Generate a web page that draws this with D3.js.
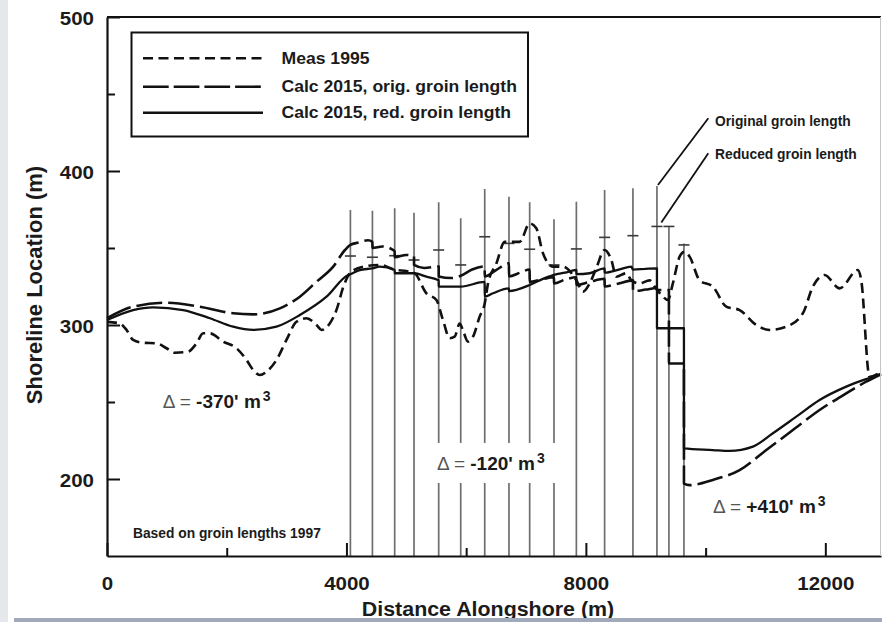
<!DOCTYPE html>
<html>
<head>
<meta charset="utf-8">
<script src="https://cdn.jsdelivr.net/npm/d3@7"></script>
<style>
  html, body { margin: 0; padding: 0; background: #fff; }
  svg { display: block; }
  text { font-family: "Liberation Sans", Arial, Helvetica, sans-serif; font-weight: bold; fill: #1b1b1b; }
</style>
</head>
<body>
<svg id="chart" width="882" height="622"></svg>
<script>
// Shoreline position [distance alongshore (m), shoreline location (m)]
const measured1995 = [
  [0,302],[214,301],[326,296.8],[436,290.3],[603,288.5],[827,288.1],[994,284.9],[1134,282],
  [1355,282.7],[1496,288.1],[1606,294.6],[1718,294.6],[1940,289.2],[2163,284.9],[2331,277.3],
  [2442,270.8],[2552,267.5],[2665,269.7],[2831,277.3],[2998,290.3],[3165,302.1],[3332,304.4],
  [3501,300],[3585,296.8],[3721,301],[3833,309.7],[3950,325],[4066,334],[4300,338],[4556,339],
  [4806,336],[5000,335],[5129,334],[5336,320.6],[5503,316.2],[5613,303.2],[5725,291.4],
  [5808,292.4],[5892,301],[5960,295],[6030,289.2],[6114,292.4],[6225,305.4],[6310,314],
  [6365,327],[6505,340],[6643,354],[6894,354],[7061,366],[7172,362.8],[7283,346.6],
  [7450,337.9],[7617,337.9],[7841,329],[7951,321.6],[8062,327],[8174,337],[8313,348.7],
  [8425,342.2],[8508,331.4],[8675,333.6],[8759,329],[8898,327],[9065,329],[9149,324.9],
  [9287,318.4],[9370,316.2],[9453,327],[9566,344.4],[9649,347.6],[9733,344.4],[9900,329],
  [10122,324.9],[10345,311.9],[10568,309.7],[10846,300],[11068,296.8],[11347,298.9],
  [11625,307.6],[11792,324.9],[11987,332.5],[12238,323.8],[12543,335.7],[12600,329],
  [12738,266.4],[12930,269.5]
];
const calcOrig2015 = [
  [0,304.4],[436,311.9],[994,314.5],[1550,311.9],[2107,307.6],[2442,306.9],[2888,310.8],
  [3222,318.4],[3501,328.1],[3779,337.9],[3975,348.7],[4066,352],[4200,353.5],[4360,355],
  [4434,354],[4434,350],[4600,351],[4806,348],[4806,344],[5000,345.5],[5129,344.5],
  [5129,339],[5300,337],[5541,338],[5541,331.5],[5750,330.5],[5909,332],[6100,336],
  [6310,338],[6310,331.5],[6500,335.7],[6715,340],[6715,331.5],[6900,334],[7061,336],
  [7061,328],[7250,329.5],[7467,331],[7467,327],[7650,329.5],[7841,331],[7841,326],
  [8062,328],[8313,330],[8313,325],[8550,327],[8786,329],[8786,322],[9000,323],[9187,324],
  [9187,322.7],[9387,322.7],[9387,275],[9638,275],[9638,197],[9733,196],[10122,199.4],
  [10568,205.8],[11014,218.8],[11458,231.8],[11904,244.8],[12349,255.6],[12683,263.2],
  [12930,268]
];
const calcRed2015 = [
  [0,303.2],[436,309.7],[770,311.5],[1273,309.7],[1718,304.4],[2107,298.9],[2442,296.8],
  [2831,298.9],[3222,306.5],[3668,318.4],[4029,332.5],[4066,333],[4222,335.7],[4434,336.8],
  [4556,337.9],[4806,335.7],[4806,333.6],[5129,333.6],[5336,331.4],[5541,329],[5541,324.9],
  [5909,324.9],[6310,328],[6310,318.4],[6448,320.6],[6715,323.8],[6715,322],[7061,326],
  [7228,329],[7467,332.5],[7650,334],[7841,335.7],[7841,333],[8062,333.6],[8313,336.8],
  [8313,334],[8550,336],[8759,337.9],[8786,336],[9000,336.5],[9187,336.8],[9187,297.9],
  [9638,297.9],[9638,219.9],[10122,218.8],[10400,218.2],[10790,221],[11124,229.7],
  [11515,240.5],[11904,251.3],[12349,260],[12794,266.4],[12930,268.3]
];

// Groin field: positions, original seaward end, reduced length marks
const groinX       = [4066, 4434, 4806, 5129, 5541, 5909, 6310, 6715, 7061, 7467, 7841, 8313, 8786, 9187, 9387, 9638];
const groinTop     = [374.7, 374.2, 375.8, 372.9, 379.7, 369.3, 388.3, 383.3, 379.7, 368.6, 380, 387.7, 388.8, 390.3, 364, 353];
const groinReduced = [344.8, 344, 345, 342.2, 348.7, 339, 357.3, 353, 349.2, 339, 349.4, 356.9, 358, 364, 364, 352];

const xTickValues = [0, 4000, 8000, 12000];
const xMinorTicks = [2000, 6000, 10000];
const yTickValues = [200, 300, 400, 500];
const yMinorTicks = [250, 350, 450];

const seriesNames = ["Meas 1995", "Calc 2015, orig. groin length", "Calc 2015, red. groin length"];
const volumeChanges = ["-370'", "-120'", "+410'"];

const svg = d3.select("#chart");
const W = 882, H = 622;

const x = d3.scaleLinear().domain([0, 12930]).range([107, 881]);
const y = d3.scaleLinear().domain([150, 500]).range([556, 17]);

const dashes = ["10,5.5", "26,6", null];
const widths = [2.6, 2.6, 2.3];

// page backdrop
svg.append("rect").attr("width", W).attr("height", H).attr("fill", "#fff");
svg.append("rect").attr("x", 0).attr("y", 0).attr("width", 8).attr("height", H).attr("fill", "#e4e8eb");

// groins
const groins = svg.append("g");
groins.selectAll("line.groin").data(groinX).join("line")
  .attr("class", "groin")
  .attr("x1", d => x(d)).attr("x2", d => x(d))
  .attr("y1", y(150)).attr("y2", (d, i) => y(groinTop[i]))
  .attr("stroke", "#6e6e6e").attr("stroke-width", 1.7);
groins.selectAll("line.mark").data(groinX).join("line")
  .attr("class", "mark")
  .attr("x1", d => x(d) - 5.5).attr("x2", d => x(d) + 5.5)
  .attr("y1", (d, i) => y(groinReduced[i])).attr("y2", (d, i) => y(groinReduced[i]))
  .attr("stroke", "#3a3a3a").attr("stroke-width", 1.6);

// clear patch behind the groin-field volume note
svg.append("rect")
  .attr("x", x(5496)).attr("y", y(223.4))
  .attr("width", x(7568) - x(5496)).attr("height", y(197.4) - y(223.4))
  .attr("fill", "#fff");

// shoreline curves: smooth between groins, sharp steps where two points share a position
function stepSafe(pts) {
  return pts.map((p, i) => (i > 0 && p[0] === pts[i - 1][0]) ? [p[0] + 0.5, p[1]] : p);
}
const line = d3.line().x(d => x(d[0])).y(d => y(d[1])).curve(d3.curveMonotoneX);
const series = [measured1995, calcOrig2015, calcRed2015];
svg.append("g").selectAll("path").data(series).join("path")
  .attr("d", d => line(stepSafe(d)))
  .attr("fill", "none")
  .attr("stroke", "#111")
  .attr("stroke-width", (d, i) => widths[i])
  .attr("stroke-dasharray", (d, i) => dashes[i])
  .attr("stroke-linejoin", "round");

// axes
const tickFont = 19, tickStretch = 1.08;
const fmt = d3.format("d");
const yAxis = svg.append("g").attr("transform", `translate(${x(0)},0)`)
  .call(d3.axisLeft(y).tickValues(yTickValues).tickFormat(fmt).tickSizeInner(-13).tickSizeOuter(0).tickPadding(0));
yAxis.select(".domain").attr("stroke", "#111").attr("stroke-width", 2.2);
yAxis.selectAll(".tick line").attr("stroke", "#111").attr("stroke-width", 2);
yAxis.selectAll(".tick text")
  .attr("x", null).attr("dy", null)
  .attr("transform", `translate(-13,7) scale(${tickStretch},1)`)
  .attr("text-anchor", "end").attr("font-size", tickFont).attr("font-family", null);

svg.append("g").attr("transform", `translate(${x(0)},0)`)
  .call(d3.axisLeft(y).tickValues(yMinorTicks).tickSizeInner(-8).tickSizeOuter(0).tickFormat(""))
  .call(g => g.select(".domain").remove())
  .selectAll(".tick line").attr("stroke", "#111").attr("stroke-width", 2);

const xAxis = svg.append("g").attr("transform", `translate(0,${y(150)})`)
  .call(d3.axisBottom(x).tickValues(xTickValues).tickFormat(fmt).tickSizeInner(-13).tickSizeOuter(0).tickPadding(0));
xAxis.select(".domain").attr("stroke", "#111").attr("stroke-width", 2.2);
xAxis.selectAll(".tick line").attr("stroke", "#111").attr("stroke-width", 2);
xAxis.selectAll(".tick text")
  .attr("y", null).attr("dy", null)
  .attr("transform", `translate(0,34) scale(${tickStretch},1)`)
  .attr("text-anchor", "middle").attr("font-size", tickFont).attr("font-family", null);

svg.append("g").attr("transform", `translate(0,${y(150)})`)
  .call(d3.axisBottom(x).tickValues(xMinorTicks).tickSizeInner(-8).tickSizeOuter(0).tickFormat(""))
  .call(g => g.select(".domain").remove())
  .selectAll(".tick line").attr("stroke", "#111").attr("stroke-width", 2);

// frame: top rule and faint right edge
svg.append("line").attr("x1", x(0)).attr("x2", 881).attr("y1", y(500)).attr("y2", y(500))
  .attr("stroke", "#111").attr("stroke-width", 2.2);
svg.append("line").attr("x1", 880.5).attr("x2", 880.5).attr("y1", y(500)).attr("y2", y(150))
  .attr("stroke", "#c4c4c4").attr("stroke-width", 1);

// axis titles
svg.append("text")
  .attr("transform", "translate(41.5,285) rotate(-90)")
  .attr("text-anchor", "middle").attr("font-size", 22)
  .text("Shoreline Location (m)");
svg.append("text")
  .attr("transform", "translate(488,616) scale(1.07,1)")
  .attr("text-anchor", "middle").attr("font-size", 20)
  .text("Distance Alongshore (m)");

// legend
const legend = svg.append("g");
legend.append("rect")
  .attr("x", 131.5).attr("y", 32.5).attr("width", 396.5).attr("height", 104)
  .attr("fill", "#fff").attr("stroke", "#111").attr("stroke-width", 2);
const rowY = [58.3, 86.7, 112.7];
seriesNames.forEach((name, i) => {
  legend.append("line")
    .attr("x1", 143).attr("x2", 263).attr("y1", rowY[i]).attr("y2", rowY[i])
    .attr("stroke", "#111").attr("stroke-width", 2.6)
    .attr("stroke-dasharray", i === 1 ? "25.7,5" : dashes[i]);
  legend.append("text")
    .attr("transform", `translate(281.5,${rowY[i] + 5.6}) scale(1.1,1)`)
    .attr("font-size", 16)
    .text(name);
});

// volume change notes
const notePos = [[932, 246.1], [5513, 205.8], [10124, 177.9]];
volumeChanges.forEach((v, i) => {
  const t = svg.append("text")
    .attr("x", x(notePos[i][0])).attr("y", y(notePos[i][1]))
    .attr("font-size", 19);
  t.append("tspan").attr("font-weight", "normal").attr("fill", "#555").text("\u0394 = ");
  t.append("tspan").text(v + " m");
  t.append("tspan").attr("font-size", 14).attr("dx", 2).attr("dy", -7).text("3");
});

// groin length annotations
svg.append("line")
  .attr("x1", x(9187) + 1).attr("y1", y(390.3) - 1)
  .attr("x2", x(10045)).attr("y2", y(434.2))
  .attr("stroke", "#111").attr("stroke-width", 1.8);
svg.append("line")
  .attr("x1", x(9260)).attr("y1", y(366.5))
  .attr("x2", x(10045)).attr("y2", y(411.5))
  .attr("stroke", "#111").attr("stroke-width", 1.8);
svg.append("text").attr("x", x(10157)).attr("y", y(429.2)).attr("font-size", 13.8)
  .text("Original groin length");
svg.append("text").attr("x", x(10157)).attr("y", y(407.8)).attr("font-size", 13.8)
  .text("Reduced groin length");

svg.append("text").attr("x", x(434)).attr("y", y(161.7)).attr("font-size", 13.8)
  .text("Based on groin lengths 1997");

// lower page band
svg.append("rect").attr("x", 14).attr("y", 618).attr("width", W - 14).attr("height", 4).attr("fill", "#a0aabb");
</script>
</body>
</html>
